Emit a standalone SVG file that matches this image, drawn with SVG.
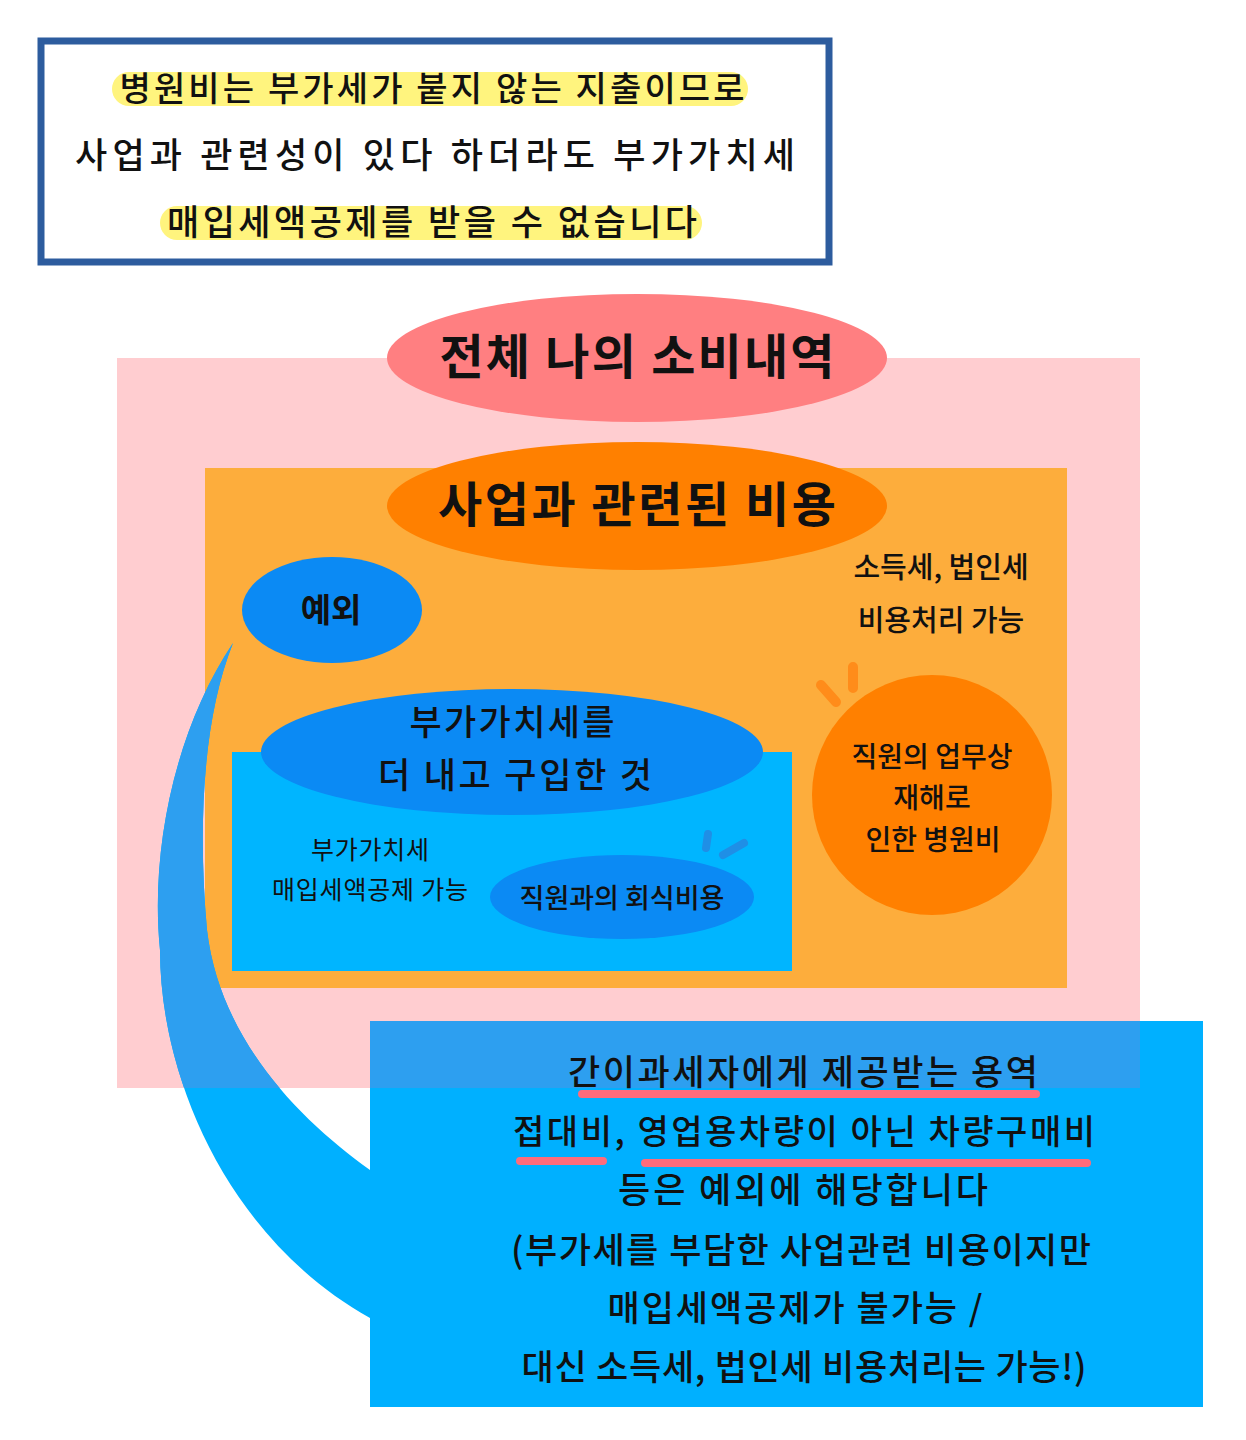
<svg xmlns="http://www.w3.org/2000/svg" width="1246" height="1440" viewBox="0 0 1246 1440">
<defs>
<style>
text{font-family:"Noto Sans CJK KR","Noto Sans",sans-serif;fill:#111;text-anchor:middle}
.t34{font-size:35px;font-weight:500}
.title{font-size:48px;font-weight:bold}
.mid{font-size:29px;font-weight:500}
.small{font-size:25px}
.hl{fill:#fff47e}
.ul{stroke:#ff6b7b;stroke-width:8;stroke-linecap:round;fill:none}
.dashb{stroke:#1f8fe6;stroke-width:8;stroke-linecap:round;fill:none}
.dasho{stroke:#ff8c1a;stroke-width:10;stroke-linecap:round;fill:none}
</style>
<clipPath id="pinkclip"><rect x="117" y="358" width="1023" height="730"/></clipPath>
<path id="callout" d="M233,643 C175,730 150,850 160,950 C160,1080 230,1240 370,1318 L370,1407 L1203,1407 L1203,1021 L370,1021 L370,1170 C300,1120 220,1040 207,930 C198,830 202,720 233,643 Z"/>
</defs>
<rect width="1246" height="1440" fill="#ffffff"/>

<g id="note">
<rect x="112" y="72" width="636" height="34" rx="17" class="hl"/>
<rect x="160" y="206" width="542" height="34" rx="17" class="hl"/>
<rect x="41" y="41" width="788" height="221" fill="none" stroke="#2d5c9e" stroke-width="7"/>
<text class="t34" x="432" y="101" textLength="625" style="font-size:34px">병원비는 부가세가 붙지 않는 지출이므로</text>
<text class="t34" x="435" y="168" textLength="720">사업과 관련성이 있다 하더라도 부가가치세</text>
<text class="t34" x="432" y="235" textLength="530">매입세액공제를 받을 수 없습니다</text>
</g>

<g id="all-spending">
<rect x="117" y="358" width="1023" height="730" fill="#ffcdd0"/>
</g>
<g id="business-costs">
<rect x="205" y="468" width="862" height="520" fill="#fdad3c"/>
</g>
<g id="vat-purchases">
<rect x="232" y="752" width="560" height="219" fill="#00b5ff"/>
</g>

<g id="all-spending-label">
<ellipse cx="637" cy="358" rx="250" ry="64" fill="#ff7f81"/>
<text class="title" x="637" y="374" textLength="395">전체 나의 소비내역</text>
</g>
<g id="business-costs-label">
<ellipse cx="637" cy="506" rx="250" ry="64" fill="#ff8000"/>
<text class="title" x="637" y="522" textLength="398">사업과 관련된 비용</text>
</g>
<g id="deductible-note">
<text class="mid" x="941" y="578">소득세, 법인세</text>
<text class="mid" x="941" y="631">비용처리 가능</text>
</g>
<g id="exception">
<ellipse cx="332" cy="610" rx="90" ry="53" fill="#0b8af4"/>
<text x="331" y="622" style="font-size:33px;font-weight:bold">예외</text>
</g>
<g id="vat-purchases-label">
<ellipse cx="512" cy="752" rx="251" ry="63" fill="#0b8af4"/>
<text class="t34" x="512" y="735" textLength="205">부가가치세를</text>
<text class="t34" x="515" y="788" textLength="274">더 내고 구입한 것</text>
</g>
<g id="vat-note">
<text class="small" x="370" y="859" textLength="118">부가가치세</text>
<text class="small" x="370" y="899" textLength="196">매입세액공제 가능</text>
</g>
<g id="staff-dinner">
<ellipse cx="622" cy="897" rx="132" ry="42" fill="#0b8af4"/>
<text x="622" y="908" style="font-size:27px;font-weight:500">직원과의 회식비용</text>
<path class="dashb" d="M708,834 L706,848 M723,855 L744,843"/>
</g>
<g id="hospital">
<circle cx="932" cy="795" r="120" fill="#ff8000"/>
<text class="mid" x="932" y="767" style="font-size:28px">직원의 업무상</text>
<text class="mid" x="932" y="808" style="font-size:28px">재해로</text>
<text class="mid" x="933" y="850" style="font-size:28px">인한 병원비</text>
<path class="dasho" d="M821,685 L836,702 M853,667 L853,688"/>
</g>

<g id="connectors">
<use href="#callout" fill="#00b0ff"/>
<use href="#callout" fill="#2d9ff0" clip-path="url(#pinkclip)"/>
</g>

<g id="exception-callout">
<path class="ul" d="M582,1094 L1036,1094"/>
<path class="ul" d="M520,1161 L603,1161 M645,1163 L1087,1163"/>
<text class="t34" x="803" y="1085" textLength="470">간이과세자에게 제공받는 용역</text>
<text class="t34" x="804" y="1144" textLength="582" style="font-size:34px">접대비, 영업용차량이 아닌 차량구매비</text>
<text class="t34" x="803" y="1203" textLength="370">등은 예외에 해당합니다</text>
<text class="t34" x="801" y="1263" textLength="580">(부가세를 부담한 사업관련 비용이지만</text>
<text class="t34" x="795" y="1321" textLength="375">매입세액공제가 불가능 /</text>
<text class="t34" x="804" y="1380" textLength="565">대신 소득세, 법인세 비용처리는 가능!)</text>
</g>
</svg>
